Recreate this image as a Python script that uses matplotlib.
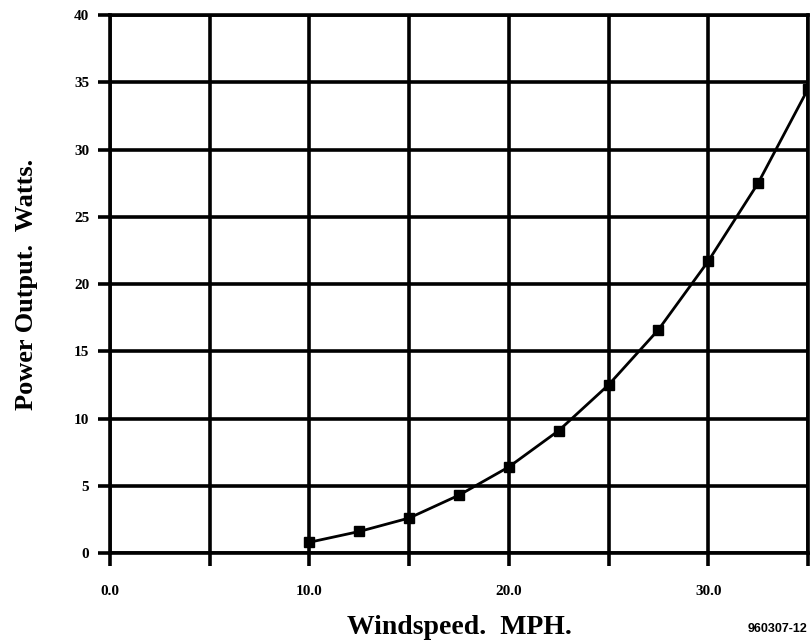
import matplotlib
matplotlib.use("Agg")
import matplotlib.pyplot as plt

# windspeed (MPH) and measured power output (W)
windspeed = [10.0, 12.5, 15.0, 17.5, 20.0, 22.5, 25.0, 27.5, 30.0, 32.5, 35.0]
power = [0.8, 1.6, 2.6, 4.3, 6.4, 9.1, 12.5, 16.6, 21.7, 27.5, 34.5]

x_ticks = [0, 5, 10, 15, 20, 25, 30, 35]
x_labels = ["0.0", "", "10.0", "", "20.0", "", "30.0", ""]
y_ticks = [0, 5, 10, 15, 20, 25, 30, 35, 40]


def main():
    fig = plt.figure(figsize=(8.10, 6.44), dpi=100)
    ax = fig.add_axes([0.1358, 0.1413, 0.8617, 0.8354])

    ax.plot(windspeed, power, "-", color="black", linewidth=2.0,
            marker="s", markersize=7, markerfacecolor="black",
            markeredgecolor="black", clip_on=True, zorder=3)

    ax.set_xlim(0, 35)
    ax.set_ylim(0, 40)
    ax.set_xticks(x_ticks)
    ax.set_xticklabels(x_labels)
    ax.set_yticks(y_ticks)

    ax.grid(True, color="black", linewidth=2.6)
    for s in ax.spines.values():
        s.set_linewidth(2.6)
        s.set_color("black")

    ax.tick_params(direction="out", length=9, width=2.6, color="black", pad=6)
    for lab in ax.get_xticklabels() + ax.get_yticklabels():
        lab.set_fontfamily("Liberation Serif")
        lab.set_fontweight("bold")
        lab.set_fontsize(11)
    ax.tick_params(axis="x", pad=14)

    ax.set_xlabel("Windspeed.  MPH.", fontfamily="Liberation Serif",
                  fontweight="bold", fontsize=20, labelpad=12)
    ax.set_ylabel("Power Output.  Watts.", fontfamily="Liberation Serif",
                  fontweight="bold", fontsize=19, labelpad=26)

    fig.text(0.997, 0.014, "960307-12", fontfamily="Liberation Sans",
             fontweight="bold", fontsize=9, ha="right", va="bottom")

    fig.savefig("out.png", dpi=100)


if __name__ == "__main__":
    main()
